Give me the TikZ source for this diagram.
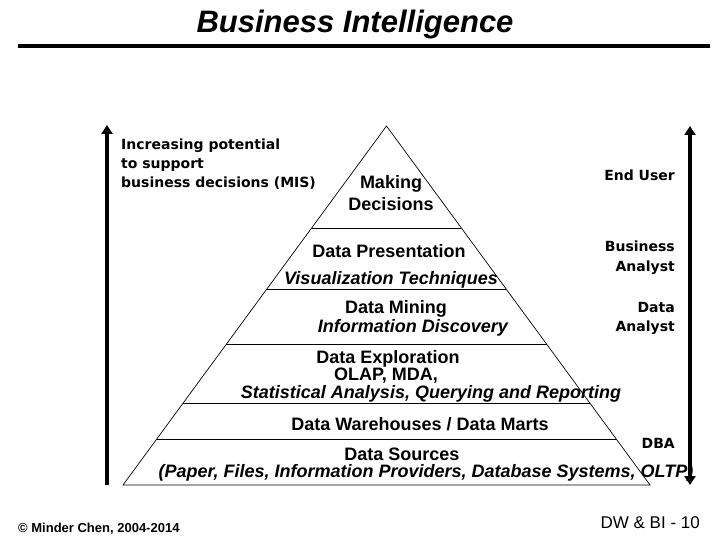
\documentclass[tikz,border=0pt]{standalone}
\usepackage{fontspec}
\setmainfont{Liberation Sans}
\newfontfamily\sidefont{DejaVu Sans}
\usepackage{tikz}
\usetikzlibrary{calc,arrows.meta}

\begin{document}
\begin{tikzpicture}[x=1pt,y=-1pt,
    layertext/.style={font=\fontsize{18}{20}\selectfont\bfseries, anchor=base, inner sep=0pt},
    layerital/.style={layertext, font=\fontsize{18}{20}\selectfont\bfseries\itshape},
    sidetext/.style={font=\sidefont\fontsize{14}{16}\selectfont\bfseries, inner sep=0pt},
    bigarrow/.style={line width=4pt, -{Triangle[width=11pt,length=9pt]}},
    layerline/.style={line width=0.7pt}]
            \useasboundingbox (0,0) rectangle (720,540);

            \node[font=\fontsize{31}{34}\selectfont\bfseries\itshape, anchor=base, inner sep=0pt] (title) at (355,33) {Business Intelligence};
            \coordinate (rulel) at (18,46);
            \coordinate (ruler) at (710,46);
            \draw[line width=4.5pt] (rulel) -- (ruler);

            \coordinate (apex) at (386.5,126);
            \coordinate (baseL) at (123,485);
            \coordinate (baseR) at (650,485);
            \draw[layerline] (baseL) -- (apex) -- (baseR) -- cycle;
            \foreach \yy in {228,289,344,403,439}
                \draw[layerline] ($(apex)!{(\yy-126)/359}!(baseL)$) -- ($(apex)!{(\yy-126)/359}!(baseR)$);

            \coordinate (leftlow) at (107,485);
            \coordinate (lefttop) at (107,125);
            \coordinate (rightlow) at (690,485);
            \coordinate (righttop) at (690,126);
            \draw[bigarrow] (leftlow) -- (lefttop);
            \draw[bigarrow, {Triangle[width=11pt,length=9pt]}-{Triangle[width=11pt,length=9pt]}] (rightlow) -- (righttop);

            \node[layertext] (making) at (391,188.5) {Making};
            \node[layertext] (decisions) at (391,210.5) {Decisions};
            \node[layertext] (present) at (389,257) {Data Presentation};
            \node[layerital] (visual) at (391,284) {Visualization Techniques};
            \node[layertext] (mining) at (396,313) {Data Mining};
            \node[layerital] (discovery) at (413,332) {Information Discovery};
            \node[layertext] (explore) at (388,363) {Data Exploration};
            \node[layertext] (olap) at (386,380) {OLAP, MDA,};
            \node[layerital] (stats) at (431,398) {Statistical Analysis, Querying and Reporting};
            \node[layertext] (warehouse) at (420,430) {Data Warehouses / Data Marts};
            \node[layertext] (sources) at (402,460) {Data Sources};
            \node[layerital] (paper) at (426,477) {(Paper, Files, Information Providers, Database Systems, OLTP)};

            \node[sidetext, anchor=base west] (inc1) at (121,150) {Increasing potential};
            \node[sidetext, anchor=base west] (inc2) at (121,169) {to support};
            \node[sidetext, anchor=base west] (inc3) at (121,188) {business decisions (MIS)};

            \node[sidetext, anchor=base east] (enduser) at (675,181) {End User};
            \node[sidetext, anchor=base east] (business) at (675,251.5) {Business};
            \node[sidetext, anchor=base east] (busanalyst) at (675,271.5) {Analyst};
            \node[sidetext, anchor=base east] (data) at (675,312.5) {Data};
            \node[sidetext, anchor=base east] (dataanalyst) at (675,331.5) {Analyst};
            \node[sidetext, anchor=base east] (dba) at (675,448) {DBA};

            \node[font=\fontsize{13}{15}\selectfont\bfseries, anchor=base west, inner sep=0pt] (copyright) at (18,532) {© Minder Chen, 2004-2014};
            \node[font=\fontsize{17}{19}\selectfont, anchor=base east, inner sep=0pt] (slideno) at (700,528) {DW \& BI - 10};

        \end{tikzpicture}
\end{document}
